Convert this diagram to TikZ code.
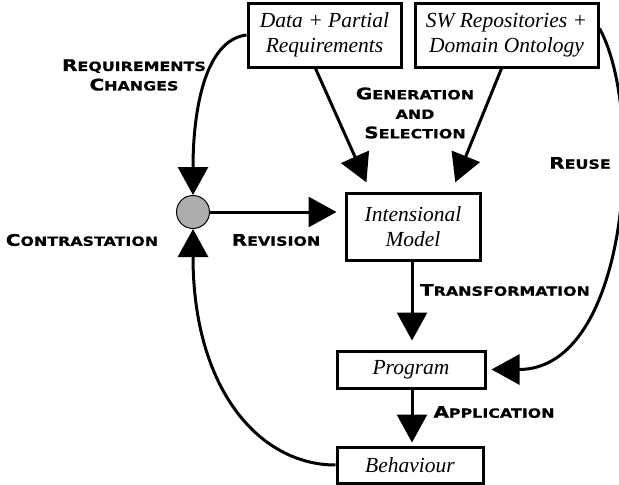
\documentclass[tikz,border=0pt]{standalone}
\usepackage{fontspec}
\setmainfont{Liberation Serif}
\newfontfamily\labfont[FakeStretch=1.25,FakeBold=0.8]{DejaVu Sans Bold}
\usetikzlibrary{arrows.meta,calc}
\newcommand{\sclab}[2]{{\fontsize{16}{20}\selectfont #1}{\fontsize{12.7}{20}\selectfont #2}}
\tikzset{
  box/.style={draw, line width=3pt, rectangle, inner sep=0pt, font=\fontsize{21.5}{25}\selectfont\itshape, align=center},
  arr/.style={line width=3pt, -{Triangle[width=30pt,length=28pt]}},
  lab/.style={font=\labfont\fontsize{12.7}{19.5}\selectfont, align=center, inner sep=0pt},
}
\begin{document}
\begin{tikzpicture}[x=1pt,y=-1pt]
\useasboundingbox (0,0) rectangle (619,485);
\node[box, minimum width=153pt, minimum height=64pt] (data) at (324.5,35) {Data + Partial\\Requirements};
\node[box, minimum width=183pt, minimum height=64pt] (sw) at (506.5,35) {SW Repositories +\\Domain Ontology};
\node[box, minimum width=134pt, minimum height=67pt] (im) at (413,226.5) {Intensional\\Model};
\node[box, minimum width=148pt, minimum height=37pt] (prog) at (411,369.5) {Program};
\node[box, minimum width=146pt, minimum height=36pt] (beh) at (410,465) {Behaviour};
\node[draw, circle, line width=1pt, fill=black!32, minimum size=33pt, inner sep=0pt] (circ) at (193,212) {};

\draw[arr, shorten >=10pt] ($(data.south west)+(69,0)$) -- ($(im.north west)+(26,0)$);
\draw[arr, shorten >=10pt] ($(sw.south west)+(88,0)$) -- ($(im.north west)+(107,0)$);
\draw[arr, shorten >=8pt] (circ.east) -- (circ.east -| im.west);
\draw[arr, shorten >=9pt] (im.south -| 412,0) -- (prog.north -| 412,0);
\draw[arr, shorten >=3pt] (prog.south -| 412,0) -- (beh.north -| 412,0);
\draw[arr] (data.west) .. controls (205,40) and (193,110) .. (circ.north);
\draw[arr] (beh.west) .. controls (260,465) and (193,390) .. (circ.south);
\draw[arr, shorten >=5pt] ($(sw.north east)+(0,27)$) .. controls (645,110) and (630,369.5) .. (prog.east);

\node[lab] (lreq) at (134,75) {\sclab{R}{EQUIREMENTS}\\\sclab{C}{HANGES}};
\node[lab] (lgen) at (415,113) {\sclab{G}{ENERATION}\\\sclab{}{AND}\\\sclab{S}{ELECTION}};
\node[lab] (lreu) at (580,163) {\sclab{R}{EUSE}};
\node[lab] (lcon) at (82,240) {\sclab{C}{ONTRASTATION}};
\node[lab] (lrev) at (276,240) {\sclab{R}{EVISION}};
\node[lab] (ltra) at (505,290) {\sclab{T}{RANSFORMATION}};
\node[lab] (lapp) at (494,412) {\sclab{A}{PPLICATION}};
\end{tikzpicture}
\end{document}
